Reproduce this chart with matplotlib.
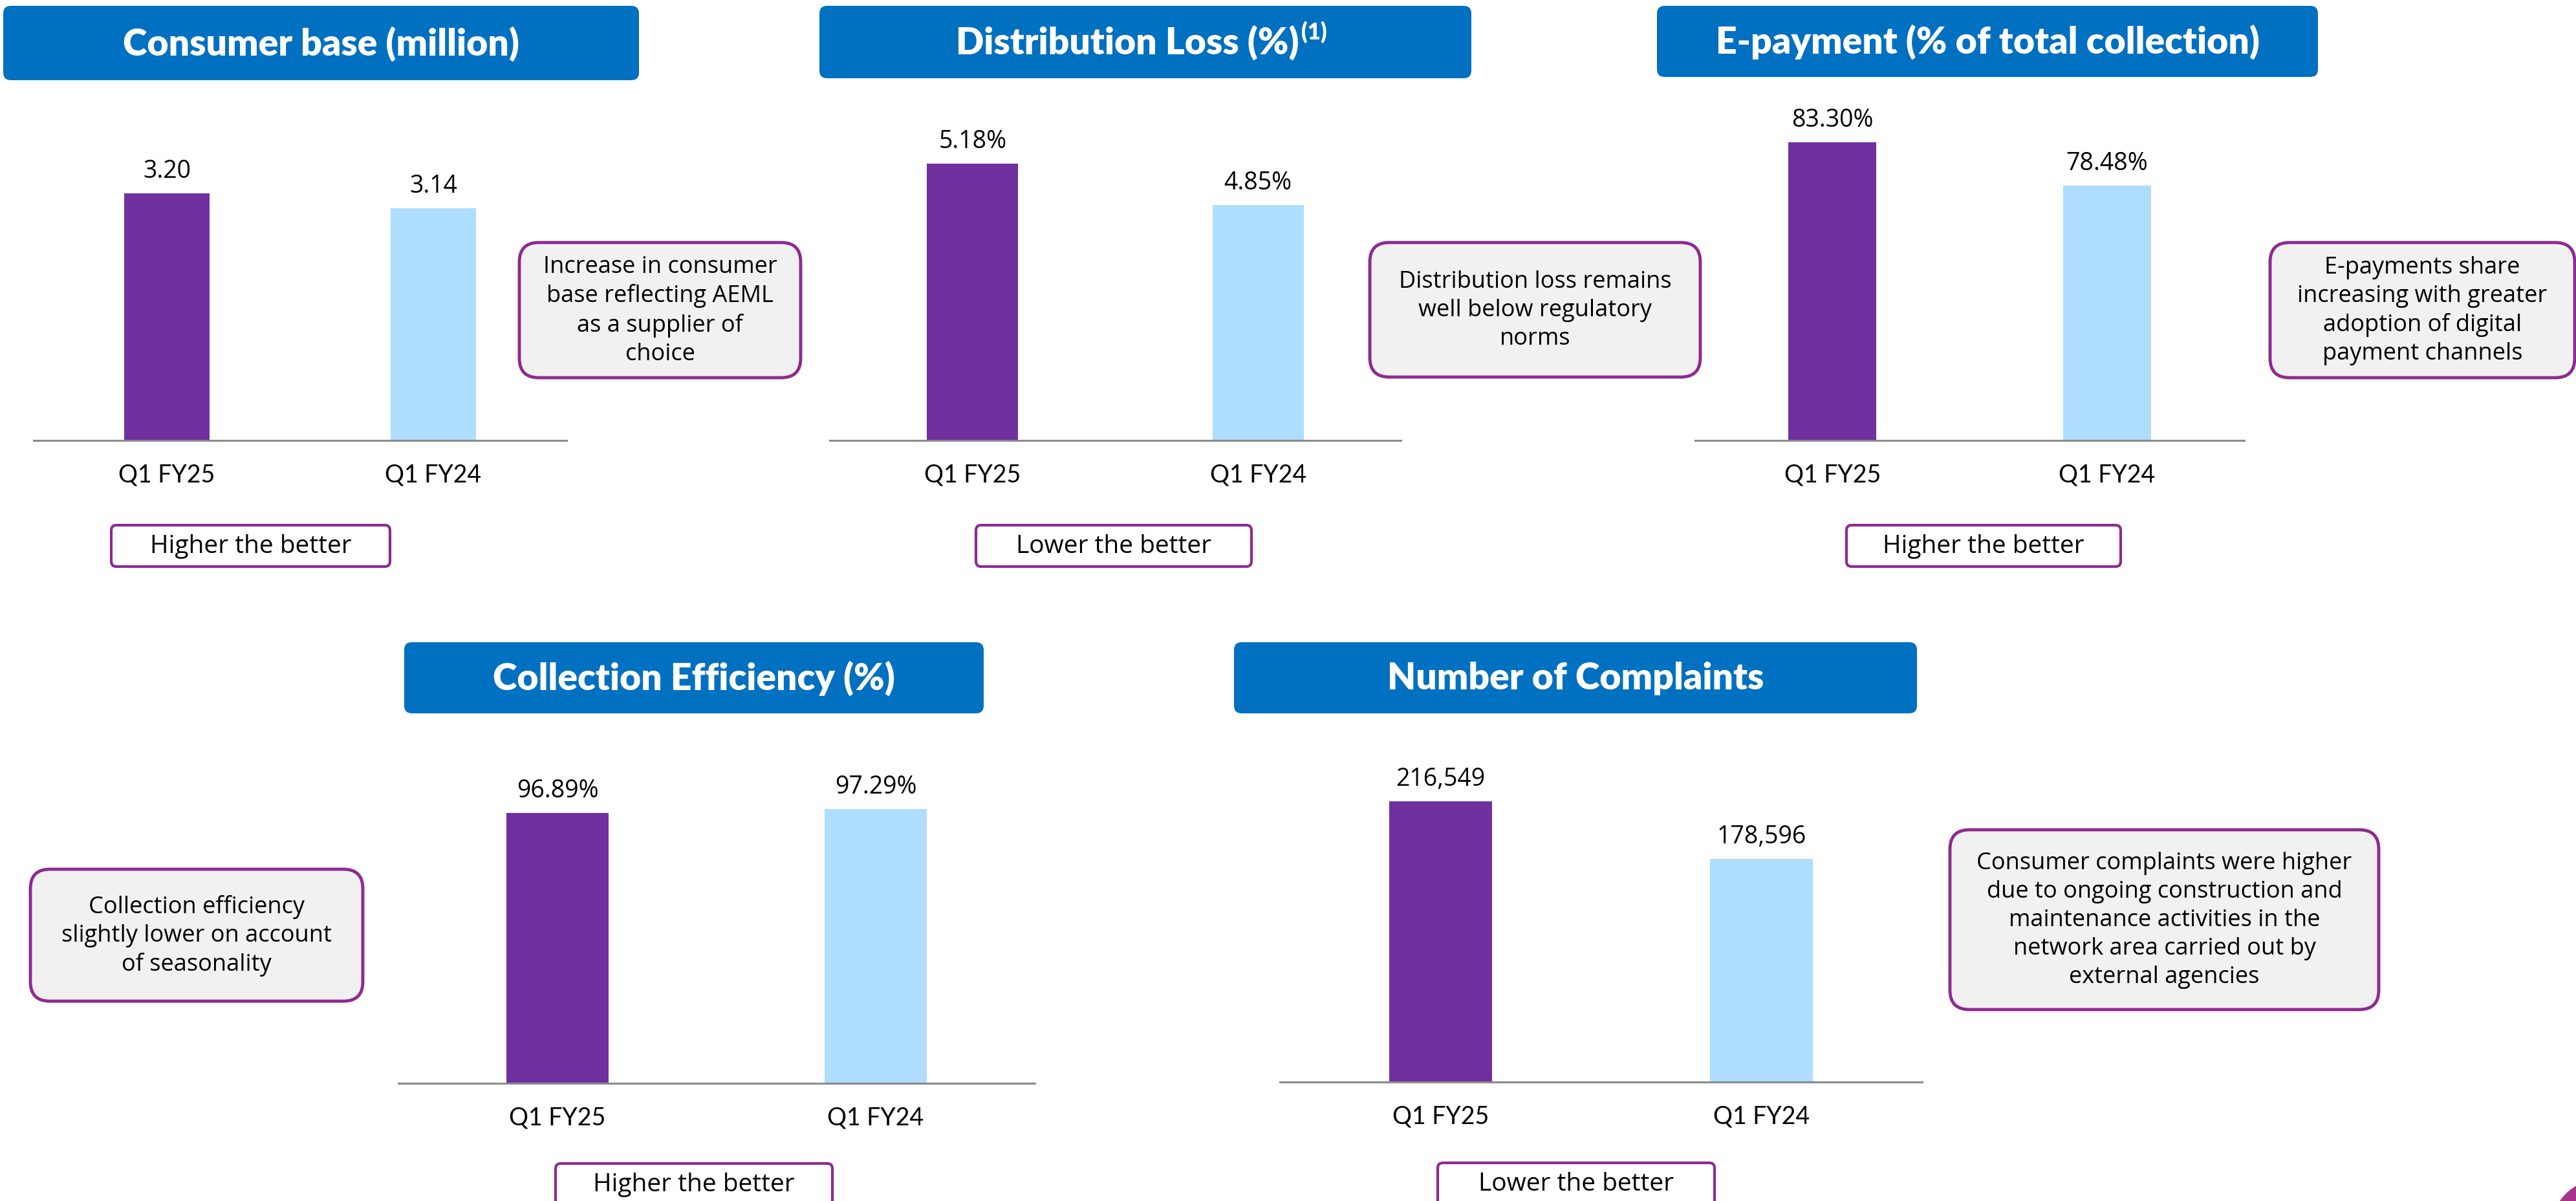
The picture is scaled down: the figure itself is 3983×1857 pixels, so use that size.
#!/usr/bin/env python3
"""
Operational KPI panel: five small bar charts, Q1 FY25 vs Q1 FY24.
"""

import matplotlib
matplotlib.use('Agg')
import matplotlib.pyplot as plt
from matplotlib.patches import FancyBboxPatch, Ellipse
from matplotlib.transforms import IdentityTransform

# Data
periods = ['Q1 FY25', 'Q1 FY24']
consumer_base = [3.20, 3.14]
distribution_loss = [5.18, 4.85]
e_payment = [83.30, 78.48]
collection_efficiency = [96.89, 97.29]
complaints = [216549, 178596]

titles = ['Consumer base (million)', 'Distribution Loss (%)', 'E-payment (% of total collection)',
          'Collection Efficiency (%)', 'Number of Complaints']
verdicts = ['Higher the better', 'Lower the better', 'Higher the better',
            'Higher the better', 'Lower the better']
notes = [
    'Increase in consumer\nbase reflecting AEML\nas a supplier of\nchoice',
    'Distribution loss remains\nwell below regulatory\nnorms',
    'E-payments share\nincreasing with greater\nadoption of digital\npayment channels',
    'Collection efficiency\nslightly lower on account\nof seasonality',
    'Consumer complaints were higher\ndue to ongoing construction and\nmaintenance activities in the\nnetwork area carried out by\nexternal agencies',
]

# Styling
PURPLE = '#7030A0'
LIGHT_BLUE = '#AFDDFE'
TITLE_BLUE = '#0070C0'
BOX_EDGE = '#8E2A8F'
BOX_FACE = '#F1F1F1'
AXIS_GRAY = '#8C8C8C'
FONT = 'Lato'
BODY = 'Open Sans'

W, H = 3983, 1858
fig = plt.figure(figsize=(W / 100, H / 100), dpi=100)
fig.patch.set_facecolor('white')


def px_box(x0, y0, x1, y1, face, edge=None, lw=0, r=10):
    """Rounded box in pixel coordinates (top-left origin)."""
    p = FancyBboxPatch((x0, H - y1), x1 - x0, y1 - y0,
                       boxstyle=f'round,pad=0,rounding_size={r}',
                       transform=IdentityTransform(), facecolor=face,
                       edgecolor=edge if edge else face, linewidth=lw)
    fig.add_artist(p)


def px_text(x, y, s, family=FONT, **kw):
    return fig.text(x / W, 1 - y / H, s, ha='center', va='center', family=family, **kw)


# Layout per panel: axis line x-range, baseline y, title box, verdict box, note box,
# axis floor and pixels per unit used to scale the bars
panels = [
    dict(vals=consumer_base, fmt='{:.2f}', ax=(52, 876, 682), floor=2.2, ppu=382,
         title=(5, 10, 988, 125), verdict=(172, 813, 603, 877), note=(803, 376, 1238, 585)),
    dict(vals=distribution_loss, fmt='{:.2f}%', ax=(1283, 2166, 682), floor=2.97, ppu=428 / 2.21,
         title=(1267, 10, 2275, 122), verdict=(1509, 813, 1935, 877), note=(2118, 376, 2629, 584)),
    dict(vals=e_payment, fmt='{:.2f}%', ax=(2621, 3470, 682), floor=50.0, ppu=461 / 33.3,
         title=(2562, 10, 3584, 120), verdict=(2855, 813, 3279, 877), note=(3510, 376, 3981, 585)),
    dict(vals=collection_efficiency, fmt='{:.2f}%', ax=(616, 1600, 1676), floor=70.0, ppu=418 / 26.89,
         title=(625, 994, 1521, 1104), verdict=(859, 1800, 1287, 1875), note=(47, 1345, 561, 1549)),
    dict(vals=complaints, fmt='{:,}', ax=(1979, 2972, 1674), floor=31400, ppu=434 / (216549 - 31400),
         title=(1908, 994, 2964, 1104), verdict=(2223, 1799, 2651, 1875), note=(3015, 1284, 3678, 1562)),
]

AX_H = 520

for i, p in enumerate(panels):
    x0, x1, base = p['ax']
    ax = fig.add_axes([x0 / W, (H - base) / H, (x1 - x0) / W, AX_H / H])
    ax.patch.set_visible(False)
    ax.bar(range(len(periods)), p['vals'], width=0.32, color=[PURPLE, LIGHT_BLUE])
    ax.set_xlim(-0.5, 1.5)
    ax.set_ylim(p['floor'], p['floor'] + AX_H / p['ppu'])
    for s in ['top', 'right', 'left']:
        ax.spines[s].set_visible(False)
    ax.spines['bottom'].set_color(AXIS_GRAY)
    ax.spines['bottom'].set_linewidth(2.2)
    ax.set_yticks([])
    ax.set_xticks([])
    for j, v in enumerate(p['vals']):
        ax.annotate(p['fmt'].format(v), xy=(j, v), xytext=(0, 25), textcoords='offset points',
                    ha='center', va='center', fontsize=27, family=BODY)
        ax.annotate(periods[j], xy=(j, 0), xycoords=('data', 'axes fraction'),
                    xytext=(0, -38), textcoords='offset points',
                    ha='center', va='center', fontsize=27, family=FONT, annotation_clip=False)

    # Title banner
    tx0, ty0, tx1, ty1 = p['title']
    px_box(tx0, ty0, tx1, ty1, TITLE_BLUE, r=12)
    cx, cy = (tx0 + tx1) / 2, (ty0 + ty1) / 2
    if i == 1:
        t = px_text(cx - 28, cy, titles[i], color='white', fontsize=41, fontweight='heavy')
        fig.canvas.draw()
        bb = t.get_window_extent()
        fig.text((bb.x1 + 4) / W, 1 - (cy - 16) / H, '(1)', ha='left', va='center',
                 family=FONT, color='white', fontsize=25, fontweight='heavy')
    else:
        px_text(cx, cy, titles[i], color='white', fontsize=41, fontweight='heavy')

    # Verdict box
    vx0, vy0, vx1, vy1 = p['verdict']
    px_box(vx0, vy0, vx1, vy1, 'white', BOX_EDGE, lw=3, r=8)
    px_text((vx0 + vx1) / 2, vy0 + 32, verdicts[i], family=BODY, fontsize=28)

    # Note box
    nx0, ny0, nx1, ny1 = p['note']
    px_box(nx0, ny0, nx1, ny1, BOX_FACE, BOX_EDGE, lw=3.5, r=30)
    px_text((nx0 + nx1) / 2, (ny0 + ny1) / 2, notes[i], family=BODY, fontsize=26,
            linespacing=1.3)

# Decorative corner circle
fig.add_artist(Ellipse((4020, H - 1900), 150, 150, transform=IdentityTransform(),
                       facecolor='#A7358A', edgecolor='none'))

plt.savefig('out.png', dpi=100)
plt.close()
print("Plot saved to out.png")
